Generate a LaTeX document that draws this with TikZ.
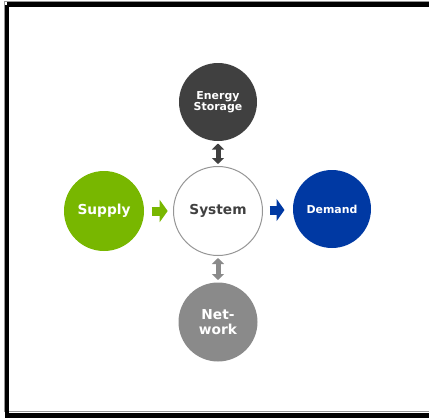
\documentclass[tikz,border=0pt]{standalone}
\usepackage{fontspec}
\setmainfont{DejaVu Sans}
\usetikzlibrary{arrows.meta}

\definecolor{storagegray}{RGB}{64,64,64}
\definecolor{networkgray}{RGB}{138,138,138}
\definecolor{supplygreen}{RGB}{120,183,0}
\definecolor{demandblue}{RGB}{0,57,163}
\definecolor{rimgray}{RGB}{150,150,150}

\tikzset{every picture/.style={line width=0.75pt}}
\tikzset{
  ball/.style={circle, inner sep=0pt, align=center, text=white, font=\bfseries\fontsize{10.3pt}{11pt}\selectfont},
  smalltext/.style={font=\bfseries\fontsize{8.2pt}{8.6pt}\selectfont},
  flow/.style={line width=6.75pt, -{Triangle[length=6pt,width=16.5pt]}},
  link/.style={line width=3.75pt, {Triangle[length=4.5pt,width=9pt]}-{Triangle[length=4.5pt,width=9pt]}},
}

\begin{document}
\begin{tikzpicture}[x=0.75pt,y=0.75pt,yscale=-1,xscale=1]
\useasboundingbox (0,0) rectangle (429,418);

%Frame lines
\draw [rimgray, line width=0.75pt] (4,1) -- (429,1) ;
\draw [rimgray, line width=0.75pt] (4,1) -- (4,411) -- (429,411) ;
\draw [line width=3.75pt] (7,4.5) -- (429,4.5) ;
\draw [line width=3pt] (7,4.5) -- (7,418) ;
\draw [line width=3.75pt] (7,415) -- (429,415) ;

%Shape: Circle
\node [ball, fill=storagegray, minimum size=58.5pt, smalltext] (storage) at (218,102) {Energy\\Storage};
%Shape: Circle
\node [ball, draw=rimgray, fill=white, minimum size=66.75pt, text=storagegray] (system) at (218,211) {System};
%Shape: Circle
\node [ball, fill=supplygreen, minimum size=60pt] (supply) at (104,211) {Supply};
%Shape: Circle
\node [ball, fill=demandblue, minimum size=58.5pt, smalltext] (demand) at (332,209) {Demand};
%Shape: Circle
\node [ball, fill=networkgray, minimum size=59.25pt] (network) at (218,322) {Net-\\work};

%Block arrows
\draw [flow, supplygreen, shorten <=5.25pt, shorten >=4pt] (supply.east) -- (system.west) ;
\draw [flow, demandblue, shorten <=4.9pt, shorten >=6pt] (system.east |- 0,210) -- (demand.west |- 0,210) ;

%Double arrows
\draw [link, storagegray, shorten <=1.5pt, shorten >=1.5pt] (storage.south) -- (system.north) ;
\draw [link, networkgray, shorten <=1.5pt, shorten >=1.5pt] (system.south) -- (network.north) ;

\end{tikzpicture}
\end{document}
